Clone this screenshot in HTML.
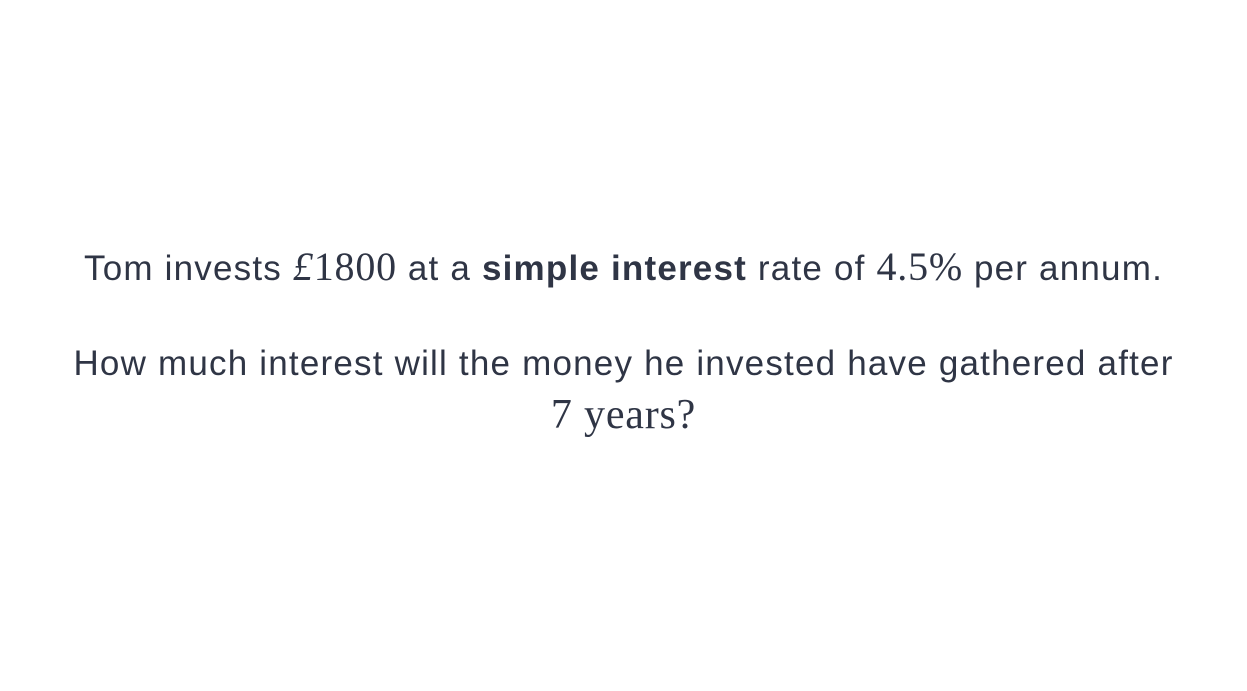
<!DOCTYPE html>
<html>
<head>
<meta charset="utf-8">
<style>
  html, body { margin: 0; padding: 0; background: #ffffff; }
  body { width: 1247px; height: 691px; position: relative; overflow: hidden;
    font-family: "Liberation Sans", "DejaVu Sans", sans-serif; color: #2f3545; }
  .line { position: absolute; left: 0; width: 1247px; text-align: center; font-size: 35px; letter-spacing: 1.2px; white-space: nowrap; }
  .m { font-family: "Liberation Serif", "DejaVu Serif", serif; font-size: 40px; letter-spacing: 0.8px; }
  b { font-weight: bold; }
</style>
</head>
<body>
  <div class="line" style="top:243px;">Tom invests <span class="m"><i>£</i>1800</span> at a <b>simple interest</b> rate of <span class="m">4.5%</span> per annum.</div>
  <div class="line" style="top:344px;">How much interest will the money he invested have gathered after</div>
  <div class="line m" style="top:391px; font-size:42px;">7 years?</div>
</body>
</html>
